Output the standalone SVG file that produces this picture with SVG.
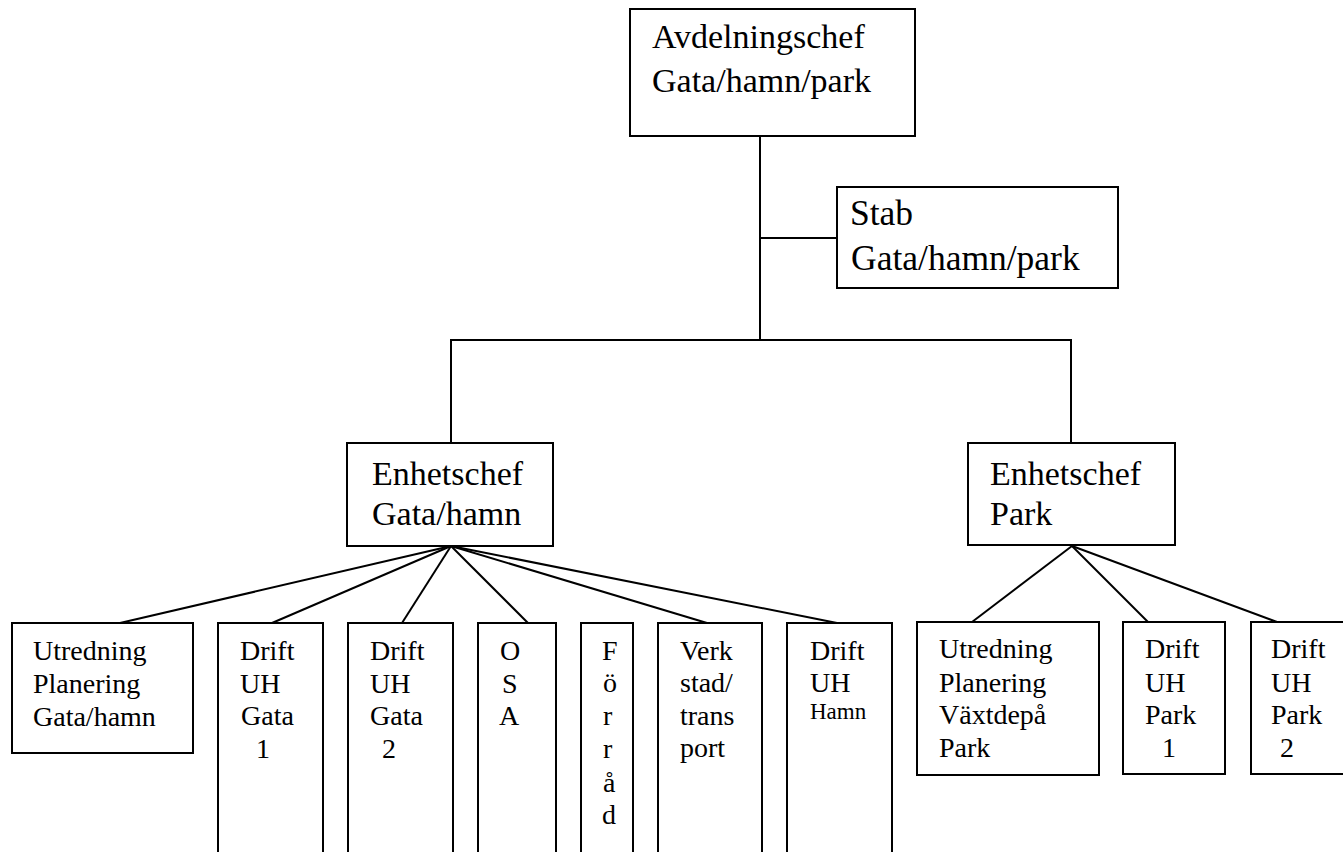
<svg xmlns="http://www.w3.org/2000/svg" width="1343" height="852" viewBox="0 0 1343 852" font-family="Liberation Serif, DejaVu Serif, serif">
<style>
.box{fill:#fff;stroke:#000;stroke-width:2}
.con{fill:none;stroke:#000;stroke-width:2}
.h1{font-size:34px}
.h2{font-size:35.5px}
.h3{font-size:34px}
.t{font-size:28px}
.s{font-size:23px}
</style>
<rect width="1343" height="852" fill="#fff"/>
<g id="connectors">
<polyline class="con" points="760,136 760,340"/>
<line class="con" x1="760" y1="238" x2="837" y2="238"/>
<polyline class="con" points="451,443 451,340 1071,340 1071,443"/>
<line class="con" x1="451" y1="546" x2="120" y2="623"/>
<line class="con" x1="451" y1="546" x2="272" y2="623"/>
<line class="con" x1="451" y1="546" x2="402" y2="623"/>
<line class="con" x1="451" y1="546" x2="528" y2="623"/>
<line class="con" x1="451" y1="546" x2="707" y2="623"/>
<line class="con" x1="451" y1="546" x2="837" y2="623"/>
<line class="con" x1="1072" y1="546" x2="972" y2="622"/>
<line class="con" x1="1072" y1="546" x2="1148" y2="622"/>
<line class="con" x1="1072" y1="546" x2="1277" y2="622"/>
</g>
<g id="avdelningschef">
<rect class="box" x="630" y="9" width="285" height="127"/>
<text class="h1" x="652" y="48">Avdelningschef</text>
<text class="h1" x="652" y="92">Gata/hamn/park</text>
</g>
<g id="stab">
<rect class="box" x="837" y="187" width="281" height="101"/>
<text class="h2" x="850" y="225">Stab</text>
<text class="h2" x="851" y="270">Gata/hamn/park</text>
</g>
<g id="enhetschef-gata">
<rect class="box" x="347" y="443" width="206" height="103"/>
<text class="h3" x="372" y="485">Enhetschef</text>
<text class="h3" x="372" y="525">Gata/hamn</text>
</g>
<g id="enhetschef-park">
<rect class="box" x="968" y="443" width="207" height="102"/>
<text class="h3" x="990" y="485">Enhetschef</text>
<text class="h3" x="990" y="525">Park</text>
</g>
<g id="utredning-gata">
<rect class="box" x="12" y="623" width="181" height="130"/>
<text class="t" x="33" y="660">Utredning</text>
<text class="t" x="33" y="693">Planering</text>
<text class="t" x="33" y="726">Gata/hamn</text>
</g>
<g id="drift-gata-1">
<rect class="box" x="218" y="623" width="105" height="240"/>
<text class="t" x="240" y="660">Drift</text>
<text class="t" x="240" y="693">UH</text>
<text class="t" x="241" y="725">Gata</text>
<text class="t" x="256" y="758">1</text>
</g>
<g id="drift-gata-2">
<rect class="box" x="348" y="623" width="105" height="240"/>
<text class="t" x="370" y="660">Drift</text>
<text class="t" x="370" y="693">UH</text>
<text class="t" x="370" y="725">Gata</text>
<text class="t" x="382" y="758">2</text>
</g>
<g id="osa">
<rect class="box" x="478" y="623" width="78" height="240"/>
<text class="t" x="500" y="660">O</text>
<text class="t" x="502" y="693">S</text>
<text class="t" x="499" y="725">A</text>
</g>
<g id="forrad">
<rect class="box" x="581" y="623" width="52" height="240"/>
<text class="t" x="602" y="660">F</text>
<text class="t" x="603" y="692">ö</text>
<text class="t" x="603" y="725">r</text>
<text class="t" x="603" y="758">r</text>
<text class="t" x="603" y="792">å</text>
<text class="t" x="602" y="824">d</text>
</g>
<g id="verkstad">
<rect class="box" x="658" y="623" width="104" height="240"/>
<text class="t" x="680" y="660">Verk</text>
<text class="t" x="680" y="692">stad/</text>
<text class="t" x="680" y="725">trans</text>
<text class="t" x="680" y="757">port</text>
</g>
<g id="drift-hamn">
<rect class="box" x="787" y="623" width="105" height="240"/>
<text class="t" x="810" y="660">Drift</text>
<text class="t" x="810" y="692">UH</text>
<text class="s" x="810" y="719">Hamn</text>
</g>
<g id="utredning-park">
<rect class="box" x="917" y="622" width="182" height="153"/>
<text class="t" x="939" y="658">Utredning</text>
<text class="t" x="939" y="692">Planering</text>
<text class="t" x="939" y="724">Växtdepå</text>
<text class="t" x="939" y="757">Park</text>
</g>
<g id="drift-park-1">
<rect class="box" x="1123" y="622" width="102" height="152"/>
<text class="t" x="1145" y="658">Drift</text>
<text class="t" x="1145" y="692">UH</text>
<text class="t" x="1145" y="724">Park</text>
<text class="t" x="1162" y="757">1</text>
</g>
<g id="drift-park-2">
<rect class="box" x="1251" y="622" width="100" height="152"/>
<text class="t" x="1271" y="658">Drift</text>
<text class="t" x="1271" y="692">UH</text>
<text class="t" x="1271" y="724">Park</text>
<text class="t" x="1280" y="757">2</text>
</g>
</svg>
